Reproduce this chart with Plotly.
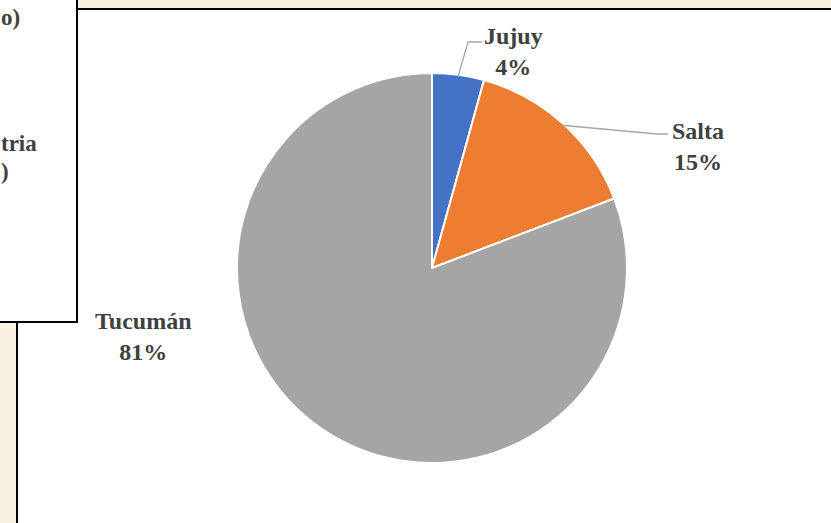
import math
import plotly.graph_objects as go

# ---- data ----
regions = ["Jujuy", "Salta", "Tucumán"]
shares = [4.3, 14.9, 80.8]
colors = ["#4472C4", "#ED7D31", "#A5A5A5"]

W, H = 831, 523
CX, CY, R = 432, 268, 195
TXT = "#404040"
FONT = "Liberation Serif, Times New Roman, serif"

fig = go.Figure()

fig.add_trace(go.Pie(
    labels=regions, values=shares, sort=False, direction="clockwise", rotation=0,
    marker=dict(colors=colors, line=dict(color="white", width=2)),
    textinfo="none", hoverinfo="label+percent", showlegend=False,
    domain=dict(x=[(CX - R) / W, (CX + R) / W], y=[(H - CY - R) / H, (H - CY + R) / H]),
))

# invisible axes in pixel units for decorations
fig.update_xaxes(range=[0, W], visible=False, fixedrange=True)
fig.update_yaxes(range=[H, 0], visible=False, fixedrange=True)

shapes = [
    dict(type="rect", x0=17, y0=9, x1=W + 10, y1=H + 10, fillcolor="white",
         line=dict(color="black", width=2), layer="below"),
    dict(type="rect", x0=-10, y0=-10, x1=77, y1=322, fillcolor="white",
         line=dict(color="black", width=2), layer="below"),
]

# leader lines from slice midpoints
total = sum(shares)
mids = []
acc = 0
for v in shares:
    mids.append((acc + v / 2) / total * 2 * math.pi)
    acc += v

def edge(a, r=R - 2):
    return CX + r * math.sin(a), CY - r * math.cos(a)

leaders = {0: [(468, 42), (482, 42)], 1: [(657, 134), (668, 134)]}
for i, pts in leaders.items():
    x0, y0 = edge(mids[i])
    path = f"M{x0},{y0} " + " ".join(f"L{x},{y}" for x, y in pts)
    shapes.append(dict(type="path", path=path, line=dict(color="#A6A6A6", width=1.3)))

label_pos = {0: (513, 51), 1: (698, 146), 2: (143, 336)}
annotations = []
for i, (x, y) in label_pos.items():
    pct = round(shares[i] / total * 100)
    annotations.append(dict(x=x, y=y, xref="x", yref="y", showarrow=False,
                            text=f"<b>{regions[i]}<br>{pct}%</b>",
                            font=dict(family=FONT, size=24, color=TXT),
                            xanchor="center", yanchor="middle"))

# clipped fragments from neighbouring panel
for txt, y in [("o)", 17), ("tria", 143), (")", 172)]:
    annotations.append(dict(x=0, y=1 - y / H, xref="paper", yref="paper", showarrow=False,
                            text=f"<b>{txt}</b>", font=dict(family=FONT, size=23, color=TXT),
                            xanchor="left", yanchor="middle", borderpad=0))

fig.update_layout(
    width=W, height=H, margin=dict(l=0, r=0, t=0, b=0),
    paper_bgcolor="#F8F0E0", plot_bgcolor="rgba(0,0,0,0)",
    shapes=shapes, annotations=annotations,
)

fig.write_html("out.html", config={"displayModeBar": False},
               post_script="document.body.style.margin='0';")
